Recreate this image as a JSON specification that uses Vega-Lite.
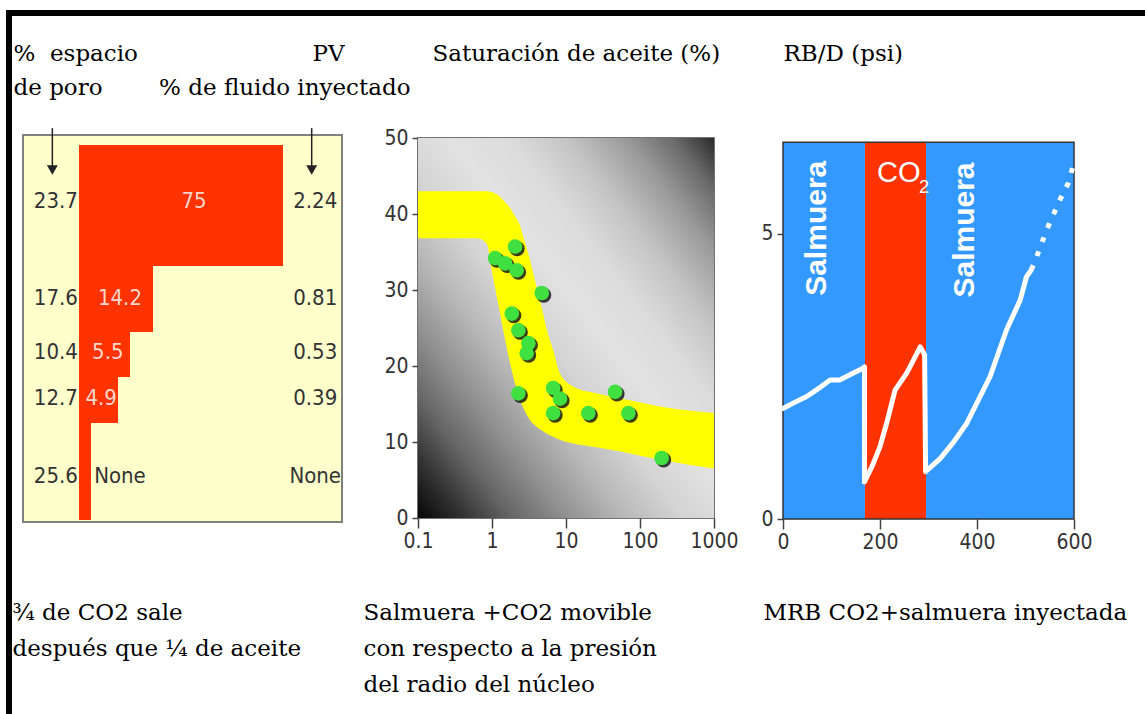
{
  "$schema": "https://vega.github.io/schema/vega-lite/v6.json",
  "padding": {"left": 4, "top": 8, "right": 0, "bottom": 0},
  "background": "white",
  "bounds": "flush",
  "spacing": 76,
  "config": {
    "view": {"stroke": null},
    "axis": {
      "labelFont": "Liberation Sans Narrow, DejaVu Sans Condensed, sans-serif",
      "labelFontSize": 21,
      "labelColor": "#333333",
      "tickColor": "#444444",
      "tickWidth": 1.5,
      "domain": false,
      "grid": false,
      "labelFlush": false,
      "labelOverlap": false,
      "titleFont": "DejaVu Serif",
      "titleFontSize": 23,
      "titleFontWeight": "normal",
      "titleColor": "#000000",
      "titleAngle": 0,
      "titleAlign": "left",
      "titleBaseline": "alphabetic",
      "titleLineHeight": 36
    },
    "text": {"font": "Liberation Sans Narrow, DejaVu Sans Condensed, sans-serif", "fontSize": 22}
  },
  "hconcat": [
    {
      "width": 319,
      "height": 380,
      "view": {"stroke": null},
      "resolve": {"axis": {"x": "independent", "y": "independent"}},
      "layer": [
        {
          "data": {"values": [{}]},
          "mark": {"type": "rect", "fill": "#FFFFCC", "stroke": "#808080", "strokeWidth": 2},
          "encoding": {
            "x": {"datum": 0, "type": "quantitative", "scale": {"domain": [0, 100], "nice": false, "zero": false},
              "axis": {"labels": false, "ticks": false, "domain": false, "title": ["¾ de CO2 sale", "después que ¼ de aceite"], "titleX": -11, "titleY": 101, "titleLineHeight": 36}},
            "x2": {"datum": 100},
            "y": {"datum": -0.8, "type": "quantitative", "scale": {"domain": [0, 100], "nice": false, "zero": false, "reverse": true},
              "axis": {"orient": "left", "labels": false, "ticks": false, "domain": false, "title": ["%\u00a0\u00a0espacio", "de poro"], "titleX": -10, "titleY": -78, "titleLineHeight": 34}},
            "y2": {"datum": 101.05}
          }
        },
        {
          "data": {"values": [
            {"poro": "23.7", "aceite": "75", "pv": "2.24", "der": 81.5, "sup": 1.84, "inf": 33.68, "fila": 16.6, "xa": 53.6},
            {"poro": "17.6", "aceite": "14.2", "pv": "0.81", "der": 40.75, "sup": 33.68, "inf": 51.05, "fila": 42.2, "xa": 30.4},
            {"poro": "10.4", "aceite": "5.5", "pv": "0.53", "der": 33.54, "sup": 51.05, "inf": 62.89, "fila": 56.4, "xa": 26.6},
            {"poro": "12.7", "aceite": "4.9", "pv": "0.39", "der": 29.78, "sup": 62.89, "inf": 75.0, "fila": 68.3, "xa": 24.5},
            {"poro": "25.6", "aceite": "None", "pv": "None", "der": 21.32, "sup": 75.0, "inf": 100.53, "fila": 88.9, "xa": 30.4}
          ]},
          "resolve": {"axis": {"x": "independent", "y": "independent"}},
          "layer": [
            {
              "mark": {"type": "rect", "color": "#FF3300"},
              "encoding": {
                "x": {"field": "der", "type": "quantitative", "axis": null},
                "x2": {"datum": 17.55},
                "y": {"field": "sup", "type": "quantitative",
                  "axis": {"orient": "right", "labels": false, "ticks": false, "domain": false, "titleAlign": "right", "title": "% de fluido inyectado", "titleX": 68, "titleY": -44}},
                "y2": {"field": "inf"}
              }
            },
            {
              "mark": {"type": "text", "align": "center", "baseline": "middle", "color": "#333333"},
              "encoding": {
                "x": {"datum": 10.3, "type": "quantitative", "axis": null},
                "y": {"field": "fila", "type": "quantitative", "axis": null},
                "text": {"field": "poro"}
              }
            },
            {
              "mark": {"type": "text", "align": "center", "baseline": "middle", "color": "#333333"},
              "encoding": {
                "x": {"datum": 91.6, "type": "quantitative", "axis": null},
                "y": {"field": "fila", "type": "quantitative", "axis": null},
                "text": {"field": "pv"}
              }
            },
            {
              "mark": {"type": "text", "align": "center", "baseline": "middle"},
              "encoding": {
                "x": {"field": "xa", "type": "quantitative", "axis": null},
                "y": {"field": "fila", "type": "quantitative", "axis": null},
                "text": {"field": "aceite"},
                "color": {"condition": {"test": "datum.aceite === 'None'", "value": "#333333"}, "value": "#FFD6CC"}
              }
            }
          ]
        },
        {
          "data": {"values": [{}]},
          "resolve": {"axis": {"x": "independent", "y": "independent"}},
          "layer": [
            {"mark": {"type": "rule", "color": "#222222", "strokeWidth": 1.5},
              "encoding": {"x": {"datum": 9.2, "type": "quantitative",
                "axis": {"orient": "top", "labels": false, "ticks": false, "domain": false, "title": "PV", "titleX": 289, "titleY": -78}},
                "y": {"datum": -2.6, "type": "quantitative", "axis": null}, "y2": {"datum": 7.5}}},
            {"mark": {"type": "rule", "color": "#222222", "strokeWidth": 1.5},
              "encoding": {"x": {"datum": 90.5, "type": "quantitative", "axis": null}, "y": {"datum": -2.6, "type": "quantitative", "axis": null}, "y2": {"datum": 7.5}}},
            {"mark": {"type": "point", "shape": "triangle-down", "filled": true, "color": "#222222", "size": 120, "opacity": 1},
              "encoding": {"x": {"datum": 9.2, "type": "quantitative", "axis": null}, "y": {"datum": 8.4, "type": "quantitative", "axis": null}}},
            {"mark": {"type": "point", "shape": "triangle-down", "filled": true, "color": "#222222", "size": 120, "opacity": 1},
              "encoding": {"x": {"datum": 90.5, "type": "quantitative", "axis": null}, "y": {"datum": 8.4, "type": "quantitative", "axis": null}}},
            {"mark": {"type": "rule", "color": "#000000", "strokeWidth": 6, "strokeCap": "square"},
              "encoding": {"x": {"datum": -4.39, "type": "quantitative", "axis": null}, "x2": {"datum": 353.3}, "y": {"datum": -32.89, "type": "quantitative", "axis": null}}},
            {"mark": {"type": "rule", "color": "#000000", "strokeWidth": 6, "strokeCap": "square"},
              "encoding": {"x": {"datum": -4.39, "type": "quantitative", "axis": null}, "y": {"datum": -32.89, "type": "quantitative", "axis": null}, "y2": {"datum": 153.2}}}
          ]
        }
      ]
    },
    {
      "bounds": "flush",
      "spacing": 69,
      "hconcat": [
        {
          "width": 296,
          "height": 380,
          "view": {"stroke": "#444444", "strokeWidth": 1.5},
          "resolve": {"axis": {"x": "independent", "y": "independent"}},
          "layer": [
            {
              "data": {"values": [{}]},
              "mark": {"type": "rect", "fill": {"gradient": "linear", "x1": 0, "y1": 1, "x2": 1, "y2": 0, "stops": [
                {"offset": 0, "color": "#050505"},
                {"offset": 0.08, "color": "#333333"},
                {"offset": 0.16, "color": "#666666"},
                {"offset": 0.25, "color": "#909090"},
                {"offset": 0.35, "color": "#b8b8b8"},
                {"offset": 0.45, "color": "#d4d4d4"},
                {"offset": 0.55, "color": "#e2e2e2"},
                {"offset": 0.65, "color": "#dcdcdc"},
                {"offset": 0.75, "color": "#c4c4c4"},
                {"offset": 0.85, "color": "#9a9a9a"},
                {"offset": 0.93, "color": "#6a6a6a"},
                {"offset": 1, "color": "#2a2a2a"}
              ]}},
              "encoding": {
                "x": {"datum": 0.1, "type": "quantitative", "scale": {"type": "log", "domain": [0.1, 1000], "nice": false},
                  "axis": {"values": [0.1, 1, 10, 100, 1000], "format": "~g", "tickSize": 10, "labelPadding": 2,
                    "title": ["Salmuera +CO2 movible", "con respecto a la presión", "del radio del núcleo"], "titleX": -55, "titleY": 101, "titleLineHeight": 36}},
                "x2": {"datum": 1000},
                "y": {"datum": 0, "type": "quantitative", "scale": {"domain": [0, 50], "nice": false},
                  "axis": {"values": [0, 10, 20, 30, 40, 50], "tickSize": 6, "labelPadding": 4, "title": "Saturación de aceite (%)", "titleX": 14, "titleY": -78}},
                "y2": {"datum": 50}
              }
            },
            {
              "data": {"values": [
                {"p": 0.1, "sup": 43, "inf": 36.8},
                {"p": 0.62, "sup": 43, "inf": 36.8},
                {"p": 0.85, "sup": 43, "inf": 36.1},
                {"p": 0.99, "sup": 42.9, "inf": 32.6},
                {"p": 1.16, "sup": 42.6, "inf": 29.1},
                {"p": 1.28, "sup": 42.3, "inf": 27.0},
                {"p": 1.42, "sup": 41.8, "inf": 24.7},
                {"p": 1.84, "sup": 40.5, "inf": 19.5},
                {"p": 1.94, "sup": 40.1, "inf": 18.6},
                {"p": 2.39, "sup": 38.5, "inf": 15.5},
                {"p": 2.65, "sup": 37.0, "inf": 14.5},
                {"p": 3.25, "sup": 34.0, "inf": 12.9},
                {"p": 3.6, "sup": 32.2, "inf": 12.4},
                {"p": 4.9, "sup": 26.9, "inf": 11.4},
                {"p": 5.5, "sup": 24.8, "inf": 11.1},
                {"p": 6.7, "sup": 22.1, "inf": 10.7},
                {"p": 8.3, "sup": 19.0, "inf": 10.3},
                {"p": 12.5, "sup": 17.3, "inf": 9.8},
                {"p": 25.8, "sup": 16.4, "inf": 9.3},
                {"p": 43.6, "sup": 15.9, "inf": 8.9},
                {"p": 72.9, "sup": 15.5, "inf": 8.5},
                {"p": 206, "sup": 14.6, "inf": 7.6},
                {"p": 1000, "sup": 13.8, "inf": 6.5}
              ]},
              "mark": {"type": "area", "color": "#FFFF00", "interpolate": "monotone", "clip": true},
              "encoding": {
                "x": {"field": "p", "type": "quantitative", "scale": {"type": "log"}, "axis": null},
                "y": {"field": "sup", "type": "quantitative", "axis": null},
                "y2": {"field": "inf"}
              }
            },
            {
              "data": {"values": [
                {"p": 1.1, "s": 34.2}, {"p": 1.5, "s": 33.5}, {"p": 2.05, "s": 35.7}, {"p": 2.15, "s": 32.6},
                {"p": 4.7, "s": 29.6}, {"p": 1.85, "s": 26.9}, {"p": 2.27, "s": 24.7}, {"p": 3.1, "s": 23.0},
                {"p": 2.94, "s": 21.7}, {"p": 2.27, "s": 16.4}, {"p": 6.7, "s": 17.1}, {"p": 8.3, "s": 15.7},
                {"p": 6.7, "s": 13.8}, {"p": 20, "s": 13.8}, {"p": 46, "s": 16.6}, {"p": 69.5, "s": 13.8},
                {"p": 196, "s": 7.9}
              ]},
              "resolve": {"axis": {"x": "independent", "y": "independent"}},
              "layer": [
                {
                  "mark": {"type": "point", "filled": true, "color": "#1a1a1a", "opacity": 0.85, "size": 230, "xOffset": 2, "yOffset": 2},
                  "encoding": {
                    "x": {"field": "p", "type": "quantitative", "scale": {"type": "log"}, "axis": null},
                    "y": {"field": "s", "type": "quantitative", "axis": null}
                  }
                },
                {
                  "mark": {"type": "point", "filled": true, "color": "#3FE03F", "opacity": 1, "size": 215},
                  "encoding": {
                    "x": {"field": "p", "type": "quantitative", "scale": {"type": "log"}, "axis": null},
                    "y": {"field": "s", "type": "quantitative", "axis": null}
                  }
                }
              ]
            }
          ]
        },
        {
          "width": 291,
          "height": 381,
          "view": {"stroke": null},
          "resolve": {"axis": {"x": "independent", "y": "independent"}},
          "layer": [
            {
              "data": {"values": [
                {"fase": "Salmuera", "inicio": 0, "fin": 169},
                {"fase": "CO2", "inicio": 169, "fin": 295},
                {"fase": "Salmuera", "inicio": 295, "fin": 600}
              ]},
              "mark": {"type": "rect"},
              "encoding": {
                "x": {"field": "inicio", "type": "quantitative", "scale": {"domain": [0, 600], "nice": false},
                  "axis": {"values": [0, 200, 400, 600], "tickSize": 10, "labelPadding": 2, "title": "MRB CO2+salmuera inyectada", "titleX": -20, "titleY": 100}},
                "x2": {"field": "fin"},
                "y": {"datum": 0, "type": "quantitative", "scale": {"domain": [0, 6.684], "nice": false},
                  "axis": {"values": [0, 5], "tickSize": 6, "labelPadding": 4, "title": "RB/D (psi)", "titleX": 0, "titleY": -78}},
                "y2": {"datum": 6.61},
                "color": {"field": "fase", "type": "nominal", "scale": {"domain": ["Salmuera", "CO2"], "range": ["#3399FF", "#FF3300"]}, "legend": null}
              }
            },
            {
              "data": {"values": [{}]},
              "resolve": {"axis": {"x": "independent", "y": "independent"}},
              "layer": [
                {
                  "mark": {"type": "rect", "fillOpacity": 0, "stroke": "#333333", "strokeWidth": 1.5},
                  "encoding": {
                    "x": {"datum": 0, "type": "quantitative", "axis": null},
                    "x2": {"datum": 600},
                    "y": {"datum": 0, "type": "quantitative", "axis": null},
                    "y2": {"datum": 6.61}
                  }
                },
                {
                  "mark": {"type": "text", "angle": 270, "align": "center", "baseline": "middle", "font": "Liberation Sans", "fontWeight": "bold", "fontSize": 30, "color": "white"},
                  "encoding": {"x": {"datum": 70, "type": "quantitative", "axis": null}, "y": {"datum": 5.1, "type": "quantitative", "axis": null}, "text": {"value": "Salmuera"}}
                },
                {
                  "mark": {"type": "text", "angle": 270, "align": "center", "baseline": "middle", "font": "Liberation Sans", "fontWeight": "bold", "fontSize": 30, "color": "white"},
                  "encoding": {"x": {"datum": 375, "type": "quantitative", "axis": null}, "y": {"datum": 5.07, "type": "quantitative", "axis": null}, "text": {"value": "Salmuera"}}
                },
                {
                  "mark": {"type": "text", "align": "left", "baseline": "alphabetic", "font": "Liberation Sans", "fontSize": 29, "color": "white"},
                  "encoding": {"x": {"datum": 193.8, "type": "quantitative", "axis": null}, "y": {"datum": 5.91, "type": "quantitative", "axis": null}, "text": {"value": "CO"}}
                },
                {
                  "mark": {"type": "text", "align": "left", "baseline": "alphabetic", "font": "Liberation Sans", "fontSize": 18, "color": "white", "dx": 42, "dy": 11},
                  "encoding": {"x": {"datum": 193.8, "type": "quantitative", "axis": null}, "y": {"datum": 5.91, "type": "quantitative", "axis": null}, "text": {"value": "2"}}
                }
              ]
            },
            {
              "data": {"values": [
                {"i": 0, "mrb": 0, "rbd": 1.94},
                {"i": 1, "mrb": 25, "rbd": 2.05},
                {"i": 2, "mrb": 49, "rbd": 2.15},
                {"i": 3, "mrb": 75, "rbd": 2.3},
                {"i": 4, "mrb": 97, "rbd": 2.44},
                {"i": 5, "mrb": 117, "rbd": 2.44},
                {"i": 6, "mrb": 140, "rbd": 2.54},
                {"i": 7, "mrb": 164, "rbd": 2.64},
                {"i": 8, "mrb": 168, "rbd": 2.67},
                {"i": 9, "mrb": 168, "rbd": 0.65},
                {"i": 10, "mrb": 185, "rbd": 0.95},
                {"i": 11, "mrb": 200, "rbd": 1.27},
                {"i": 12, "mrb": 215, "rbd": 1.72},
                {"i": 13, "mrb": 231, "rbd": 2.26},
                {"i": 14, "mrb": 255, "rbd": 2.56},
                {"i": 15, "mrb": 283, "rbd": 3.02},
                {"i": 16, "mrb": 292, "rbd": 2.88},
                {"i": 17, "mrb": 294, "rbd": 0.83},
                {"i": 18, "mrb": 324, "rbd": 1.06},
                {"i": 19, "mrb": 350, "rbd": 1.33},
                {"i": 20, "mrb": 379, "rbd": 1.68},
                {"i": 21, "mrb": 427, "rbd": 2.5},
                {"i": 22, "mrb": 461, "rbd": 3.32},
                {"i": 23, "mrb": 489, "rbd": 3.84},
                {"i": 24, "mrb": 502, "rbd": 4.25},
                {"i": 25, "mrb": 512, "rbd": 4.37}
              ]},
              "mark": {"type": "line", "color": "white", "strokeWidth": 5, "strokeJoin": "round", "strokeCap": "round"},
              "encoding": {
                "x": {"field": "mrb", "type": "quantitative", "axis": null},
                "y": {"field": "rbd", "type": "quantitative", "axis": null},
                "order": {"field": "i", "type": "quantitative"}
              }
            },
            {
              "data": {"values": [
                {"i": 0, "mrb": 512, "rbd": 4.37},
                {"i": 1, "mrb": 523, "rbd": 4.6},
                {"i": 2, "mrb": 543.6, "rbd": 5.07},
                {"i": 3, "mrb": 557, "rbd": 5.33},
                {"i": 4, "mrb": 571, "rbd": 5.6},
                {"i": 5, "mrb": 588, "rbd": 5.89},
                {"i": 6, "mrb": 600, "rbd": 6.25}
              ]},
              "mark": {"type": "line", "color": "white", "strokeWidth": 5, "strokeDash": [5, 10], "strokeCap": "butt"},
              "encoding": {
                "x": {"field": "mrb", "type": "quantitative", "axis": null},
                "y": {"field": "rbd", "type": "quantitative", "axis": null},
                "order": {"field": "i", "type": "quantitative"}
              }
            }
          ]
        }
      ]
    }
  ]
}
